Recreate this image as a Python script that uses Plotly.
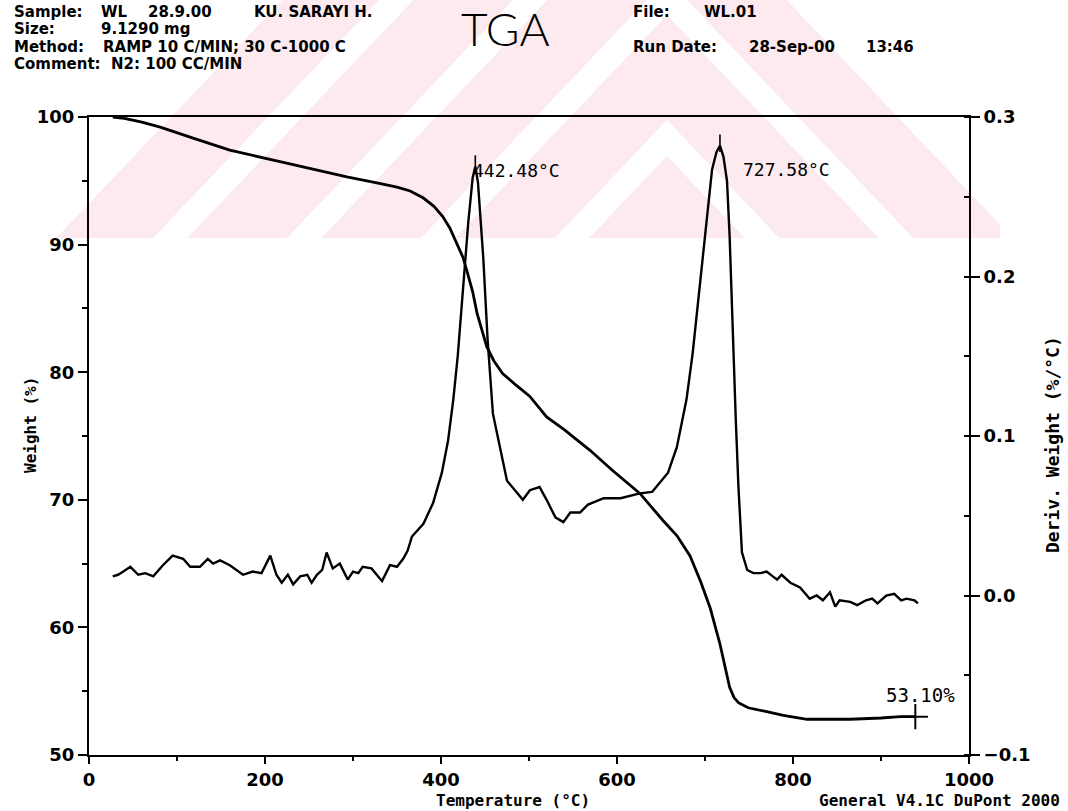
import plotly.graph_objects as go

# ---------------- data ----------------
temp_w = [27, 40, 60, 81, 120, 160, 217, 255, 293, 330, 350, 365, 380, 392, 402, 410,
          418, 425, 430, 436, 441, 447, 452, 460, 470, 485, 501, 520, 540, 558, 569,
          595, 626, 652, 668, 683, 695, 706, 717, 728, 733, 738, 749, 770, 789, 816,
          840, 865, 900, 922, 939]
weight = [100.0, 99.9, 99.6, 99.2, 98.3, 97.4, 96.5, 95.9, 95.3, 94.8, 94.5, 94.2, 93.65,
          93.0, 92.2, 91.3, 90.1, 89.0, 87.8, 86.3, 84.6, 83.2, 82.0, 80.9, 79.9, 79.0,
          78.1, 76.5, 75.5, 74.5, 73.9, 72.3, 70.5, 68.4, 67.2, 65.6, 63.6, 61.5, 58.7,
          55.3, 54.5, 54.1, 53.7, 53.4, 53.1, 52.8, 52.8, 52.8, 52.9, 53.0, 53.0]

temp_d = [27, 33, 39, 47, 56, 64, 73, 84, 95, 107, 115, 126, 135, 141, 149, 160, 175,
          186, 196, 206, 213, 219, 226, 232, 240, 248, 253, 259, 265, 270, 277, 285,
          294, 300, 306, 311, 321, 333, 342, 350, 357, 362, 367, 372, 380, 391, 401,
          408, 414, 419, 425, 431, 436, 439, 442, 448, 453, 459, 467, 475, 484, 493,
          501, 512, 520, 530, 539, 547, 558, 567, 585, 604, 626, 640, 649, 658, 668,
          679, 686, 694, 702, 708, 713, 717, 721, 725, 728, 732, 735, 738, 742, 748,
          755, 763, 770, 777, 782, 787, 797, 808, 819, 827, 834, 842, 848, 853, 865,
          873, 883, 890, 896, 906, 915, 923, 929, 938, 942]
deriv = [0.012, 0.013, 0.015, 0.018, 0.013, 0.014, 0.012, 0.019, 0.025, 0.023, 0.018,
         0.018, 0.023, 0.020, 0.022, 0.019, 0.013, 0.015, 0.014, 0.025, 0.013, 0.008,
         0.013, 0.007, 0.012, 0.013, 0.008, 0.013, 0.016, 0.027, 0.017, 0.020, 0.010,
         0.015, 0.014, 0.018, 0.017, 0.009, 0.019, 0.018, 0.023, 0.028, 0.037, 0.040,
         0.045, 0.058, 0.077, 0.097, 0.123, 0.150, 0.192, 0.234, 0.262, 0.269, 0.259,
         0.212, 0.160, 0.114, 0.093, 0.072, 0.066, 0.060, 0.066, 0.068, 0.060, 0.049,
         0.046, 0.052, 0.052, 0.057, 0.061, 0.061, 0.064, 0.065, 0.071, 0.077, 0.093,
         0.123, 0.152, 0.193, 0.235, 0.267, 0.278, 0.282, 0.275, 0.260, 0.225, 0.152,
         0.110, 0.068, 0.027, 0.016, 0.014, 0.014, 0.015, 0.012, 0.010, 0.013, 0.008,
         0.005, -0.002, 0.000, -0.003, 0.002, -0.007, -0.003, -0.004, -0.006, -0.003,
         -0.002, -0.005, 0.000, 0.001, -0.003, -0.002, -0.003, -0.005]

peak_temps = [439, 717]
peak_derivs = [0.269, 0.282]
peak_labels = ["442.48°C", "727.58°C"]

residue_temp = 939
residue_weight = 53.0
residue_label = "53.10%"

x_ticks = [0, 200, 400, 600, 800, 1000]
w_ticks = [50, 60, 70, 80, 90, 100]
d_ticks = [-0.1, 0.0, 0.1, 0.2, 0.3]

header_labels = ["Sample:", "Size:", "Method:", "Comment:"]
header_values = [["WL", "28.9.00", "KU. SARAYI H."], ["9.1290 mg"],
                 ["RAMP 10 C/MIN; 30 C-1000 C"], ["N2: 100 CC/MIN"]]
right_labels = ["File:", "Run Date:"]
right_values = [["WL.01"], ["28-Sep-00", "13:46"]]

# ---------------- layout helpers ----------------
W, H = 1068, 811
L, R, T, B = 89, 969, 117, 755


def px(x):
    return (x - L) / (R - L)


def py(y):
    return (B - y) / (B - T)


MONO = "DejaVu Sans Mono"
fig = go.Figure()

fig.add_trace(go.Scatter(x=temp_w, y=weight, mode="lines", yaxis="y",
                         line=dict(color="black", width=2.8), showlegend=False))
fig.add_trace(go.Scatter(x=temp_d, y=deriv, mode="lines", yaxis="y2",
                         line=dict(color="black", width=2.4), showlegend=False))
for t, d in zip(peak_temps, peak_derivs):
    fig.add_trace(go.Scatter(x=[t, t], y=[d - 0.004, d + 0.007], mode="lines", yaxis="y2",
                             line=dict(color="black", width=1.6), showlegend=False))
fig.add_trace(go.Scatter(x=[residue_temp], y=[residue_weight], mode="markers", yaxis="y",
                         marker=dict(symbol="cross-thin", size=18,
                                     line=dict(color="black", width=2)),
                         showlegend=False))

axis_common = dict(showline=True, linecolor="black", linewidth=2, showgrid=False,
                   zeroline=False, ticks="outside", tickcolor="black", tickwidth=2,
                   tickfont=dict(family="DejaVu Sans", size=18, color="black",
                                 weight="bold"))

# ---------------- faint pink watermark (background decoration) ----------------
PINK = "#fdeaee"
APEX_X, SLOPE = 667, 0.95
# (s1, s2, has right arm)
pink_bands = [(-405, -303, False), (-267, -162, False), (-126, -21, True),
              (15, 120, True), (156, 300, True)]
shapes = []
for s1, s2, right_arm in pink_bands:
    if right_arm:
        pts = [(0, s1 + APEX_X / SLOPE), (APEX_X, s1), (W, s1 + (W - APEX_X) / SLOPE),
               (W, s2 + (W - APEX_X) / SLOPE), (APEX_X, s2), (0, s2 + APEX_X / SLOPE)]
    else:
        pts = [(0, s1 + APEX_X / SLOPE), (APEX_X, s1), (APEX_X, s2),
               (0, s2 + APEX_X / SLOPE)]
    path = "M " + " L ".join(f"{px(x):.4f},{py(y):.4f}" for x, y in pts) + " Z"
    shapes.append(dict(type="path", path=path, xref="paper", yref="paper",
                       fillcolor=PINK, line=dict(width=0), layer="below"))
# keep the watermark inside its band
shapes.append(dict(type="rect", xref="paper", yref="paper", x0=px(-10), x1=px(W + 10),
                   y0=py(H + 10), y1=py(238), fillcolor="white", line=dict(width=0),
                   layer="below"))
shapes.append(dict(type="rect", xref="paper", yref="paper", x0=px(1000), x1=px(W + 10),
                   y0=py(240), y1=py(-10), fillcolor="white", line=dict(width=0),
                   layer="below"))

fig.update_layout(
    width=W, height=H, autosize=False,
    margin=dict(l=L, r=W - R, t=T, b=H - B),
    paper_bgcolor="white", plot_bgcolor="rgba(0,0,0,0)",
    shapes=shapes,
    xaxis=dict(range=[0, 1000], tickvals=x_ticks, ticklen=7, mirror=True,
               minor=dict(dtick=100, ticks="outside", ticklen=4, tickcolor="black",
                          tickwidth=1.5),
               **axis_common),
    yaxis=dict(range=[50, 100], tickvals=w_ticks, ticklen=9,
               minor=dict(dtick=5, ticks="outside", ticklen=5, tickcolor="black",
                          tickwidth=1.5),
               **axis_common),
    yaxis2=dict(range=[-0.1, 0.3], tickvals=d_ticks, tickformat=".1f", ticklen=9,
                overlaying="y", side="right",
                minor=dict(dtick=0.05, ticks="inside", ticklen=5, tickcolor="black",
                           tickwidth=1.5),
                **axis_common),
)

ann = []
hdr = dict(family="DejaVu Sans", size=15, color="black", weight="bold")
bold = dict(family=MONO, size=16, color="black", weight="bold")
rows_y = [12, 29, 46.5, 64]
for lab, yy in zip(header_labels, rows_y):
    ann.append(dict(text=lab, x=px(13), y=py(yy), xanchor="left", yanchor="middle",
                    font=hdr, borderpad=0))
value_x = [[100, 147, 253], [100], [102], [110]]
for vals, xs, yy in zip(header_values, value_x, rows_y):
    for v, xx in zip(vals, xs):
        ann.append(dict(text=v, x=px(xx), y=py(yy), xanchor="left", yanchor="middle",
                        font=hdr, borderpad=0))
right_x = [[703], [748, 865]]
for lab, vals, xs, yy in zip(right_labels, right_values, right_x, [12, 46.5]):
    ann.append(dict(text=lab, x=px(632), y=py(yy), xanchor="left", yanchor="middle",
                    font=hdr, borderpad=0))
    for v, xx in zip(vals, xs):
        ann.append(dict(text=v, x=px(xx), y=py(yy), xanchor="left", yanchor="middle",
                        font=hdr, borderpad=0))
ann.append(dict(text="TGA", x=px(505), y=py(28), xanchor="center", yanchor="middle",
                font=dict(family="Lato", size=46, color="black", weight=300)))
ann.append(dict(text="Weight (%)", x=px(30), y=py(425), textangle=-90,
                xanchor="center", yanchor="middle", font=bold))
ann.append(dict(text="Deriv. Weight (%/°C)", x=px(1052), y=py(445), textangle=-90,
                xanchor="center", yanchor="middle",
                font=dict(family=MONO, size=18, color="black", weight="bold")))
ann.append(dict(text="Temperature (°C)", x=px(513), y=py(800), xanchor="center",
                yanchor="middle", font=bold))
ann.append(dict(text="General V4.1C DuPont 2000", x=px(1062), y=py(800),
                xanchor="right", yanchor="middle", font=bold))

reg = dict(family=MONO, size=18, color="black")
shifts = [(-4, -4), (21, -24)]
for t, d, lab, (xs, ys) in zip(peak_temps, peak_derivs, peak_labels, shifts):
    ann.append(dict(text=lab, x=t, y=d, xref="x", yref="y2", xanchor="left",
                    yanchor="middle", xshift=xs, yshift=ys, font=reg))
ann.append(dict(text=residue_label, x=residue_temp, y=residue_weight, xref="x", yref="y",
                xanchor="right", yanchor="middle", xshift=42, yshift=22,
                font=dict(family=MONO, size=19, color="black")))

for a in ann:
    a.setdefault("xref", "paper")
    a.setdefault("yref", "paper")
    a["showarrow"] = False
fig.update_layout(annotations=ann)

fig.write_html("out.html")
